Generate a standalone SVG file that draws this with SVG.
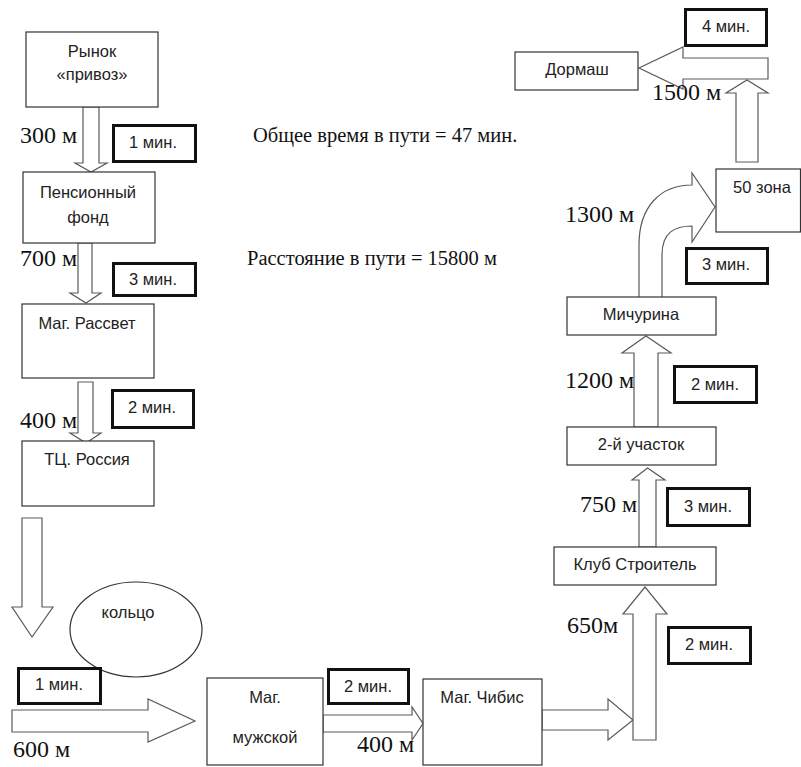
<svg xmlns="http://www.w3.org/2000/svg" width="801" height="767" viewBox="0 0 801 767">
<style>
.box{fill:#fff;stroke:#333;stroke-width:1.2}
.tbox{fill:#fff;stroke:#111;stroke-width:3}
.arr{fill:#fff;stroke:#5a5a5a;stroke-width:1.2;stroke-linejoin:miter}
.t{font-family:"Liberation Sans",Arial,sans-serif;font-size:16.5px;fill:#222;text-anchor:middle}
.s{font-family:"Liberation Serif","Times New Roman",serif;font-size:24px;fill:#111}
.m{font-family:"Liberation Serif","Times New Roman",serif;font-size:20.5px;fill:#111}
</style>
<rect width="801" height="767" fill="#fff"/>
<g id="connectors">
<polygon class="arr" points="83,107 99,107 99,163 107,163 91,172 75,163 83,163"/>
<polygon class="arr" points="78,243 92,243 92,293 101,293 86,303 70,293 78,293"/>
<polygon class="arr" points="78,382 93,382 93,433 101,433 86,443 70,433 78,433"/>
<polygon class="arr" points="22,518 42,518 42,607 53,607 32,637 12,607 22,607"/>
<polygon class="arr" points="12,710 148,710 148,699 195,721 148,742 148,732 12,732"/>
<polygon class="arr" points="323,715 412,715 412,707 423,723.5 412,740 412,732 323,732"/>
<polygon class="arr" points="542,710 608,710 608,699 633,720 608,740 608,730 542,730"/>
<polygon class="arr" points="633,740 633,614 623,614 645,587 667,614 656,614 656,740"/>
<polygon class="arr" points="639,547 639,480 632,480 647.5,468 665,480 656,480 656,547"/>
<polygon class="arr" points="634,427 634,353 622,353 646,336 671,353 658,353 658,427"/>
<path class="arr" d="M639,297 L639,245 C639,207 660,185 692,185 L692,173 L715,207 L692,242 L692,226 C675,226 662,232 662,255 L662,297"/>
<polygon class="arr" points="736,162 736,93 726,93 747,80 768,93 758,93 758,162"/>
<polygon class="arr" points="768,58 683,58 683,47 639,68 683,89 683,79 768,79"/>
</g>
<g id="n-rynok"><rect class="box" x="26" y="32" width="132" height="75"/><text class="t" x="92" y="57">Рынок</text><text class="t" x="92" y="80">«привоз»</text></g>
<g id="n-pension"><rect class="box" x="23" y="172" width="132" height="71"/><text class="t" x="88" y="198">Пенсионный</text><text class="t" x="88" y="223">фонд</text></g>
<g id="n-rassvet"><rect class="box" x="22" y="304" width="132" height="74"/><text class="t" x="87" y="329">Маг. Рассвет</text></g>
<g id="n-rossiya"><rect class="box" x="22" y="441" width="132" height="65"/><text class="t" x="87" y="465">ТЦ. Россия</text></g>
<g id="n-kolco"><ellipse class="box" cx="136" cy="629.5" rx="66" ry="47.5"/><text class="t" x="128" y="618">кольцо</text></g>
<g id="n-muzhskoy"><rect class="box" x="207" y="678" width="116" height="87"/><text class="t" x="265" y="703">Маг.</text><text class="t" x="265" y="743">мужской</text></g>
<g id="n-chibis"><rect class="box" x="423" y="679" width="119" height="86"/><text class="t" x="482" y="703">Маг. Чибис</text></g>
<g id="n-stroitel"><rect class="box" x="554" y="547" width="162" height="38"/><text class="t" x="635" y="570">Клуб Строитель</text></g>
<g id="n-uchastok"><rect class="box" x="567" y="427" width="149" height="38"/><text class="t" x="641" y="450">2-й участок</text></g>
<g id="n-michurina"><rect class="box" x="567" y="297" width="149" height="38"/><text class="t" x="641" y="320">Мичурина</text></g>
<g id="n-zona"><rect class="box" x="716" y="169" width="84.5" height="63"/><text class="t" x="762" y="193">50 зона</text></g>
<g id="n-dormash"><rect class="box" x="515" y="52" width="123" height="38"/><text class="t" x="577" y="75">Дормаш</text></g>
<g id="times">
<g id="t1"><rect class="tbox" x="113.5" y="125.5" width="82" height="36"/><text class="t" x="153" y="148">1 мин.</text></g>
<g id="t2"><rect class="tbox" x="113.5" y="263.5" width="82" height="32"/><text class="t" x="153" y="285">3 мин.</text></g>
<g id="t3"><rect class="tbox" x="112.5" y="390.5" width="81" height="37"/><text class="t" x="152" y="413">2 мин.</text></g>
<g id="t4"><rect class="tbox" x="18.5" y="668.5" width="82" height="35"/><text class="t" x="59" y="690">1 мин.</text></g>
<g id="t5"><rect class="tbox" x="328.5" y="669.5" width="80" height="34"/><text class="t" x="368" y="692">2 мин.</text></g>
<g id="t6"><rect class="tbox" x="668.5" y="627.5" width="82" height="36"/><text class="t" x="709" y="650">2 мин.</text></g>
<g id="t7"><rect class="tbox" x="667.5" y="488.5" width="82" height="37"/><text class="t" x="708" y="512">3 мин.</text></g>
<g id="t8"><rect class="tbox" x="674.5" y="366.5" width="82" height="36"/><text class="t" x="715" y="390">2 мин.</text></g>
<g id="t9"><rect class="tbox" x="686.5" y="248.5" width="81" height="35"/><text class="t" x="726" y="270">3 мин.</text></g>
<g id="t10"><rect class="tbox" x="685.5" y="9.5" width="81" height="36"/><text class="t" x="726" y="32">4 мин.</text></g>
</g>
<g id="labels">
<text class="s" x="20" y="143">300 м</text>
<text class="s" x="20" y="266">700 м</text>
<text class="s" x="20" y="428">400 м</text>
<text class="s" x="13" y="757">600 м</text>
<text class="s" x="357" y="752">400 м</text>
<text class="s" x="567" y="633">650м</text>
<text class="s" x="580" y="512">750 м</text>
<text class="s" x="565" y="388">1200 м</text>
<text class="s" x="565" y="222">1300 м</text>
<text class="s" x="652" y="100">1500 м</text>
<text class="m" x="253" y="142">Общее время в пути = 47 мин.</text>
<text class="m" x="247" y="265">Расстояние в пути = 15800 м</text>
</g>
</svg>
